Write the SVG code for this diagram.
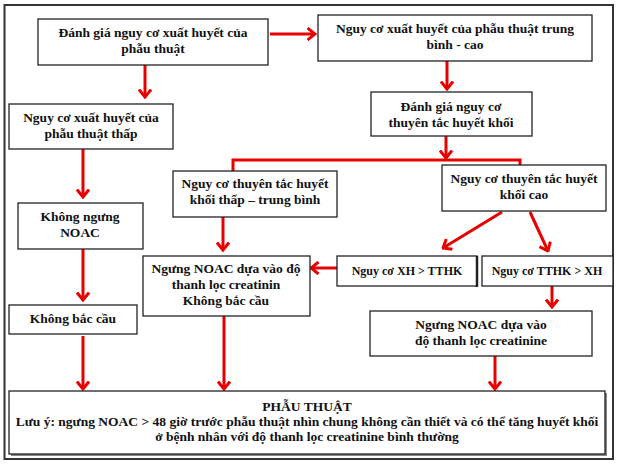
<svg xmlns="http://www.w3.org/2000/svg" width="617" height="464" viewBox="0 0 617 464">
<style>
.box{fill:#fff;stroke:#222;stroke-width:1.3}
.sh{fill:#888;stroke:none}
text{font-family:"Liberation Serif","Times New Roman",serif;font-weight:bold;font-size:13.5px;fill:#111;text-anchor:middle}
.c{fill:none;stroke:#e80000;stroke-width:3}
</style>
<defs>
<marker id="ah" viewBox="0 0 10 14" refX="8.5" refY="7" markerWidth="10" markerHeight="14" markerUnits="userSpaceOnUse" orient="auto">
<path d="M1,1 L8.5,7 L1,13" fill="none" stroke="#e80000" stroke-width="3" stroke-linejoin="miter"/>
</marker>
</defs>
<rect x="0" y="0" width="617" height="464" fill="#fff"/>
<rect x="4.5" y="5" width="608.5" height="454" fill="none" stroke="#333" stroke-width="2"/>

<g id="connectors">
<line class="c" x1="270" y1="34" x2="315" y2="34" marker-end="url(#ah)"/>
<line class="c" x1="145" y1="65" x2="145" y2="97" marker-end="url(#ah)"/>
<line class="c" x1="447" y1="61" x2="447" y2="89" marker-end="url(#ah)"/>
<line class="c" x1="446" y1="136" x2="446" y2="158" marker-end="url(#ah)"/>
<polyline class="c" points="233,171 233,160 520,160 520,165"/>
<line class="c" x1="83" y1="149" x2="83" y2="197" marker-end="url(#ah)"/>
<line class="c" x1="83" y1="249" x2="83" y2="300" marker-end="url(#ah)"/>
<line class="c" x1="223" y1="217" x2="223" y2="250" marker-end="url(#ah)"/>
<line class="c" x1="502" y1="212" x2="443" y2="248" marker-end="url(#ah)"/>
<line class="c" x1="530" y1="212" x2="548" y2="251" marker-end="url(#ah)"/>
<line class="c" x1="337" y1="268" x2="311" y2="268" marker-end="url(#ah)"/>
<line class="c" x1="552" y1="286" x2="552" y2="307" marker-end="url(#ah)"/>
<line class="c" x1="83" y1="336" x2="83" y2="389" marker-end="url(#ah)"/>
<line class="c" x1="224" y1="316" x2="224" y2="389" marker-end="url(#ah)"/>
<line class="c" x1="495" y1="356" x2="495" y2="389" marker-end="url(#ah)"/>
</g>

<g id="n1"><rect class="box" x="38" y="19" width="230" height="46"/><text x="153" y="37">Đánh giá nguy cơ xuất huyết của</text><text x="153" y="53">phẫu thuật</text></g>
<g id="n2"><rect class="box" x="318" y="15" width="274" height="46"/><text x="455" y="33">Nguy cơ xuất huyết của phẫu thuật trung</text><text x="455" y="49">bình - cao</text></g>
<g id="n3"><rect class="box" x="371" y="92" width="161" height="44"/><text x="451" y="111">Đánh giá nguy cơ</text><text x="451" y="127">thuyên tắc huyết khối</text></g>
<g id="n4"><rect class="box" x="9" y="104" width="164" height="45"/><text x="91" y="122">Nguy cơ xuất huyết của</text><text x="91" y="138">phẫu thuật thấp</text></g>
<g id="n5"><rect class="box" x="18" y="203" width="125" height="46"/><text x="80" y="221">Không ngưng</text><text x="80" y="237">NOAC</text></g>
<g id="n6"><rect class="box" x="173" y="171" width="164" height="46"/><text x="255" y="188">Nguy cơ thuyên tắc huyết</text><text x="255" y="204">khối thấp – trung bình</text></g>
<g id="n7"><rect class="box" x="442" y="165" width="164" height="46"/><text x="524" y="183">Nguy cơ thuyên tắc huyết</text><text x="524" y="199">khối cao</text></g>
<g id="n8"><rect class="box" x="143" y="256" width="167" height="60"/><text x="226" y="273">Ngưng NOAC dựa vào độ</text><text x="226" y="289">thanh lọc creatinin</text><text x="226" y="305">Không bắc cầu</text></g>
<g id="n9"><rect class="box" x="337" y="256" width="140" height="30"/><line x1="477" y1="256" x2="477" y2="287" stroke="#222" stroke-width="2.5"/><text x="407" y="275" style="font-size:12px">Nguy cơ XH &gt; TTHK</text></g>
<g id="n10"><rect class="box" x="482" y="256" width="131" height="30"/><text x="547" y="275" style="font-size:12px">Nguy cơ TTHK &gt; XH</text></g>
<g id="n11"><rect class="box" x="9" y="305" width="128" height="29"/><text x="73" y="323">Không bắc cầu</text></g>
<g id="n12"><rect class="box" x="370" y="311" width="222" height="45"/><text x="481" y="329">Ngưng NOAC dựa vào</text><text x="481" y="345">độ thanh lọc creatinine</text></g>
<g id="n13"><rect class="sh" x="11" y="393" width="596" height="63"/><rect class="box" x="9" y="391" width="596" height="63"/><text x="307" y="411">PHẪU THUẬT</text><text x="307" y="426">Lưu ý: ngưng NOAC &gt; 48 giờ trước phẫu thuật nhìn chung không cần thiết và có thể tăng huyết khối</text><text x="307" y="441">ở bệnh nhân với độ thanh lọc creatinine bình thường</text></g>
</svg>
